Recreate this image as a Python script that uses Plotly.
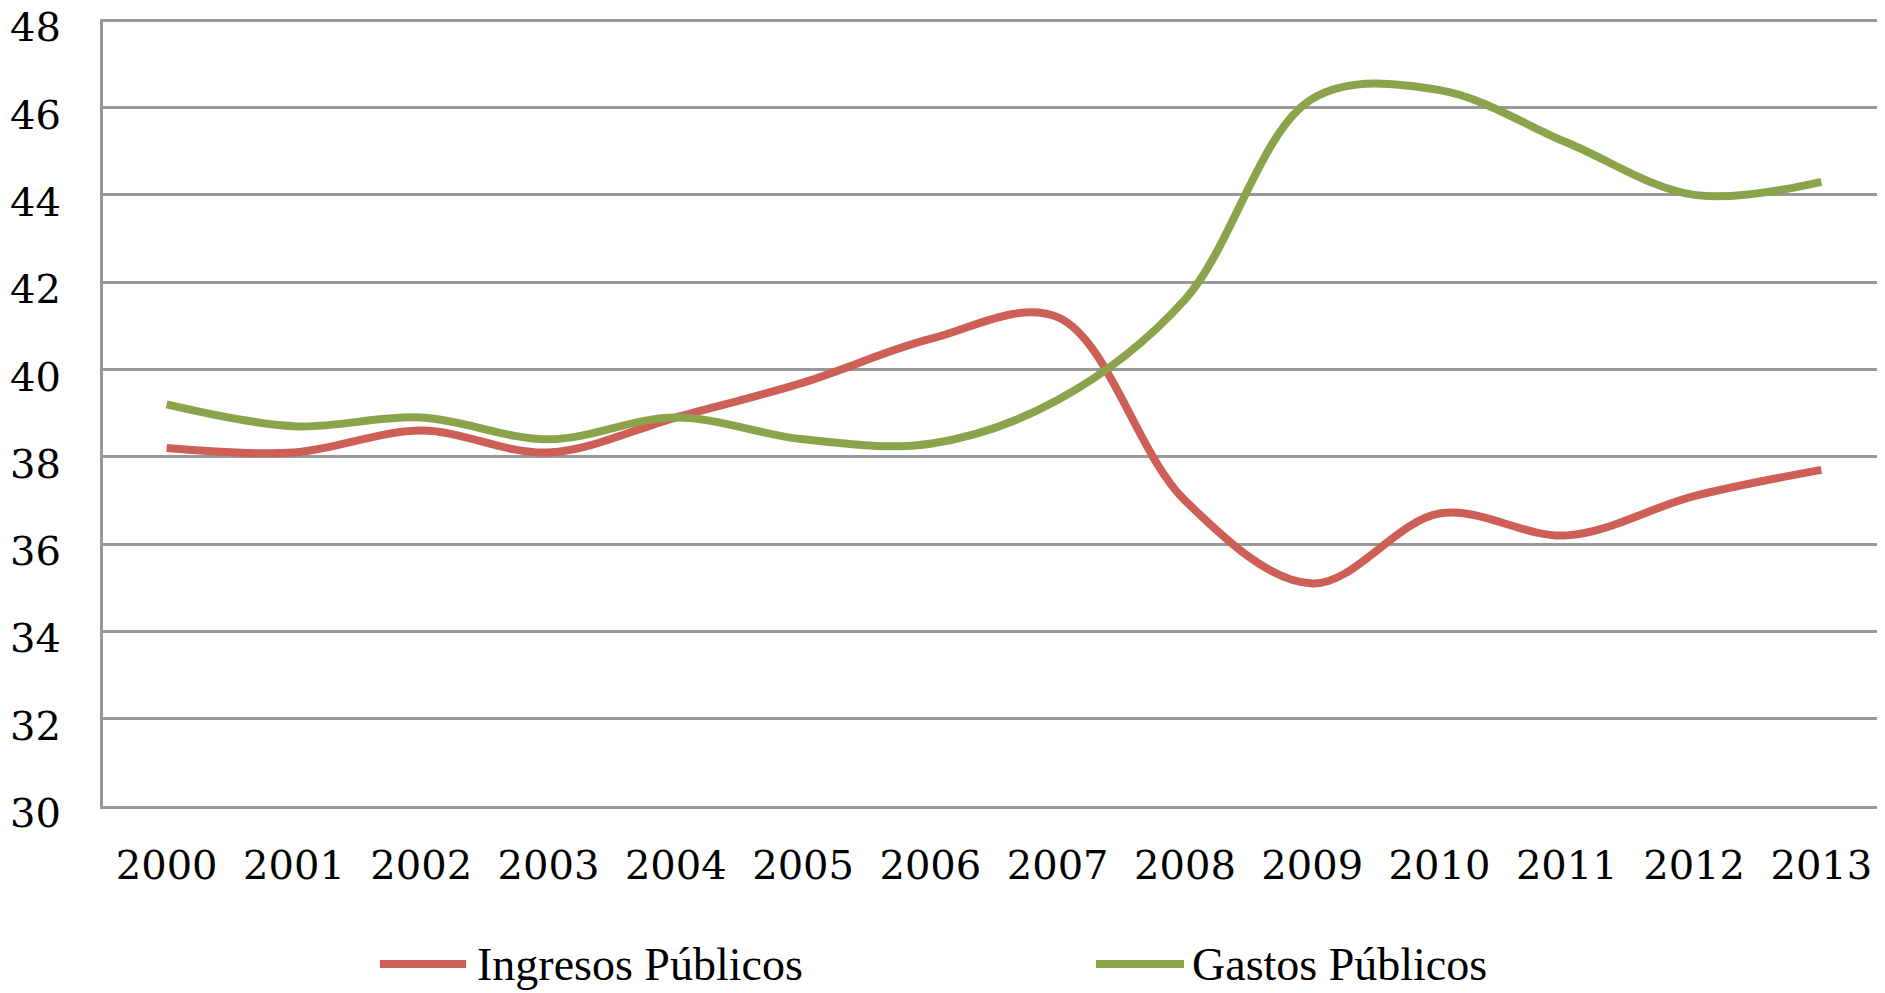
import plotly.graph_objects as go

years = ["2000", "2001", "2002", "2003", "2004", "2005", "2006",
         "2007", "2008", "2009", "2010", "2011", "2012", "2013"]
ingresos = [38.2, 38.1, 38.6, 38.1, 38.9, 39.7, 40.7, 41.2, 37.0, 35.1, 36.7, 36.2, 37.1, 37.7]
gastos = [39.2, 38.7, 38.9, 38.4, 38.9, 38.4, 38.3, 39.3, 41.6, 46.2, 46.4, 45.2, 44.0, 44.3]
y_ticks = [30, 32, 34, 36, 38, 40, 42, 44, 46, 48]

RED = "#cd5f57"
GREEN = "#8ba34b"
GRID = "#999999"
TICK_FONT = {"family": "DejaVu Serif", "size": 40, "color": "#000000"}
LEGEND_FONT = {"family": "Liberation Serif", "size": 46, "color": "#000000"}

fig = go.Figure()
for name, values, color in (("Ingresos Públicos", ingresos, RED), ("Gastos Públicos", gastos, GREEN)):
    fig.add_scatter(x=years, y=values, name=name, mode="lines",
                    line={"color": color, "width": 8, "shape": "spline", "smoothing": 1.0},
                    showlegend=False)

# hand-made legend so the sample lines are as long as in the original
legend_items = (("Ingresos Públicos", RED, 0.1554, 0.2037, 0.2088),
                ("Gastos Públicos", GREEN, 0.5572, 0.6066, 0.6100))
for label, color, x0, x1, xt in legend_items:
    fig.add_shape(type="line", xref="paper", yref="paper", x0=x0, x1=x1, y0=-0.2008, y1=-0.2008,
                  line={"color": color, "width": 8})
    fig.add_annotation(text=label, xref="paper", yref="paper", x=xt, y=-0.2008,
                       xanchor="left", yanchor="middle", showarrow=False, font=LEGEND_FONT)

fig.update_xaxes(type="category", range=[-0.5, 13.5], showgrid=False, automargin=False,
                 showline=True, linecolor=GRID, linewidth=3,
                 ticks="", tickfont=TICK_FONT, ticklabelstandoff=22)
fig.update_yaxes(range=[30, 48.03], tickvals=y_ticks, showgrid=True, gridcolor=GRID, gridwidth=3,
                 showline=True, linecolor=GRID, linewidth=3, zeroline=False, automargin=False,
                 ticks="", tickfont=TICK_FONT, ticklabelstandoff=31, ticklabelshift=7,
                 ticklabeloverflow="allow")
# the page body keeps an 8px margin, so the figure is 16px smaller than the window
fig.update_layout(
    width=1877, height=985, template="plotly_white",
    paper_bgcolor="white", plot_bgcolor="white",
    margin={"l": 95, "r": 0, "t": 11, "b": 187},
    showlegend=False,
)
fig.write_html("out.html")
